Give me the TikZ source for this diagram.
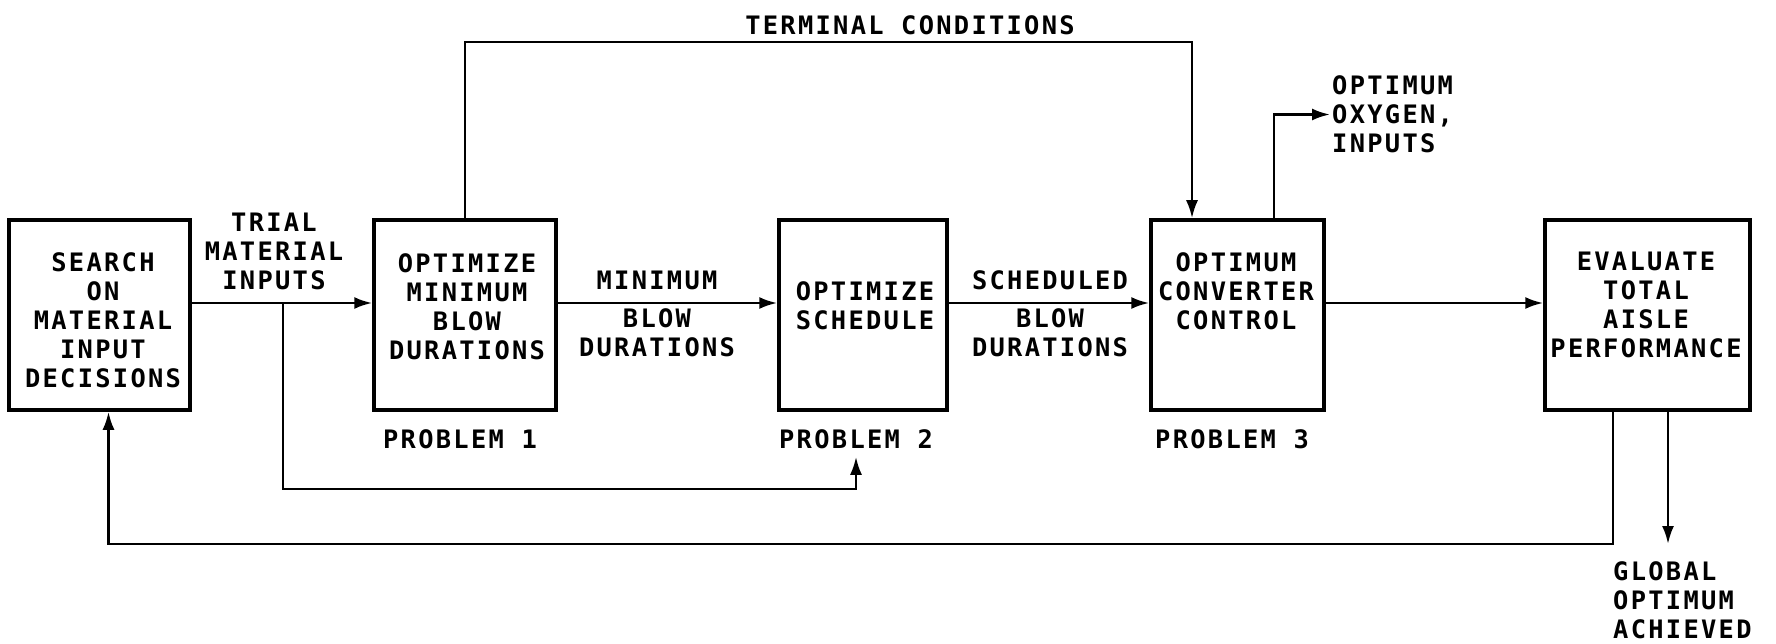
\documentclass[tikz,border=0pt]{standalone}
\usepackage{fontspec}
\newfontfamily\lett[LetterSpace=9]{DejaVu Sans Mono}
\usetikzlibrary{arrows.meta}
\begin{document}
\begin{tikzpicture}[x=1pt,y=-1pt,
  box/.style={draw, line width=3.5pt, minimum height=190pt, minimum width=#1, inner sep=0pt},
  txt/.style={font=\lett\bfseries\fontsize{25.4}{29}\selectfont, align=center, inner sep=2pt},
  conn/.style={line width=2.6pt},
  arr/.style={conn, -{Latex[length=18pt,width=12pt]}}]
\fill[white] (0,0) rectangle (1776,644);
\useasboundingbox (0,0) rectangle (1776,644);

% boxes
\node[box=181pt] (b1) at (99.5,315) {};
\node[box=182pt] (b2) at (465,315) {};
\node[box=168pt] (b3) at (863,315) {};
\node[box=173pt] (b4) at (1237.5,315) {};
\node[box=205pt] (b5) at (1647.5,315) {};

% box texts
\node[txt] (t1) at (103,320) {SEARCH\\ON\\MATERIAL\\INPUT\\DECISIONS};
\node[txt] (t2) at (467,306.5) {OPTIMIZE\\MINIMUM\\BLOW\\DURATIONS};
\node[txt] (t3) at (865,306) {OPTIMIZE\\SCHEDULE};
\node[txt] (t4) at (1236,291) {OPTIMUM\\CONVERTER\\CONTROL};
\node[txt] (t5) at (1646,305) {EVALUATE\\TOTAL\\AISLE\\PERFORMANCE};

% labels
\node[txt] (l1) at (274,251) {TRIAL\\MATERIAL\\INPUTS};
\node[txt] (l2) at (657,314) {MINIMUM\\[9pt]BLOW\\DURATIONS};
\node[txt] (l3) at (1050,314) {SCHEDULED\\[9pt]BLOW\\DURATIONS};
\node[txt] (tc) at (910,25) {TERMINAL CONDITIONS};
\node[txt, anchor=west, align=left] (ox) at (1330,114.5) {OPTIMUM\\OXYGEN,\\INPUTS};
\node[txt, anchor=west, align=left] (go) at (1611,600.5) {GLOBAL\\OPTIMUM\\ACHIEVED};
\node[txt] (p1) at (460,439) {PROBLEM 1};
\node[txt] (p2) at (856,439) {PROBLEM 2};
\node[txt] (p3) at (1232,439) {PROBLEM 3};

% coordinates
\coordinate (tb) at (283,303);
\coordinate (tbc) at (283,489);
\coordinate (tcy) at (0,42);
\coordinate (fby) at (0,544);
\coordinate (ga) at (1668,544);

% connectors
\draw[arr] ([yshift=12pt]b1.east) -- ([yshift=12pt]b2.west);
\draw[arr] (tb) -- (tbc) -| ([yshift=-6pt]p2.south);
\draw[arr] ([yshift=12pt]b2.east) -- ([yshift=12pt]b3.west);
\draw[arr] ([yshift=12pt]b3.east) -- ([yshift=12pt]b4.west);
\draw[arr] ([yshift=12pt]b4.east) -- ([yshift=12pt]b5.west);
\draw[arr] (b2.north) -- (b2.north |- tcy) -| ([xshift=-45.5pt]b4.north);
\draw[arr] ([xshift=36.5pt]b4.north) |- (ox.west);
\draw[arr] ([xshift=-34.5pt]b5.south) -- ([xshift=-34.5pt]b5.south |- fby) -| ([xshift=9pt]b1.south);
\draw[arr] (b5.south -| ga) -- (ga);
\end{tikzpicture}
\end{document}
